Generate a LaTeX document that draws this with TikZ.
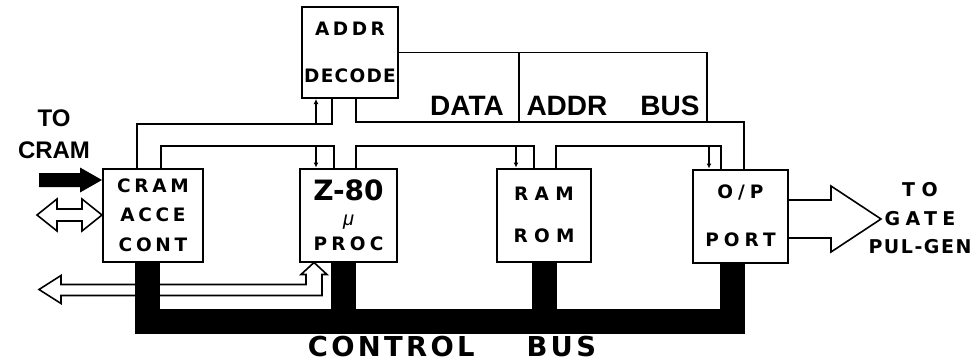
\documentclass[tikz,border=0pt]{standalone}
\usepackage{fontspec}
\setmainfont{Liberation Sans}
\newfontfamily\wide{DejaVu Sans Bold}
\usetikzlibrary{calc,arrows.meta}

\begin{document}
\begin{tikzpicture}[x=1pt, y=-1pt,
    unit/.style={draw, line width=2pt, minimum height=93pt, align=center, inner sep=0pt,
        font=\wide\fontsize{18.5}{22}\selectfont\addfontfeatures{LetterSpace=20}},
    spaced/.style={font=\wide\fontsize{18.5}{22}\selectfont\addfontfeatures{LetterSpace=#1}},
    bus/.style={line width=1.6pt},
    tapped/.style={bus, -{Latex[length=5pt,width=5pt]}},
    ctrl/.style={line width=25pt},
    hollow/.style={line width=1.6pt, fill=white},
    big/.style={font=\fontsize{28}{30}\selectfont\bfseries}]
    \useasboundingbox (0,0) rectangle (977,362);

    % Units
    \node[unit, spaced=19, minimum width=96pt, minimum height=91pt] (decode) at (350,52.5)
        {ADDR\\[25pt]\addfontfeatures{LetterSpace=7}DECODE};
    \node[unit, minimum width=100pt] (cram) at (153,215) {CRAM\\[7.5pt]ACCE\\[7.5pt]CONT};
    \node[unit, spaced=23, minimum width=97pt] (cpu) at (348.5,215)
        {{\fontsize{28}{30}\selectfont\addfontfeatures{LetterSpace=0}Z-80}\\[3pt]{\normalfont\itshape\fontsize{20}{22}\selectfont μ}\\[3pt]PROC};
    \node[unit, spaced=34, minimum width=94pt] (mem) at (544,215) {RAM\\[20pt]ROM};
    \node[unit, spaced=27, minimum width=95pt] (port) at (740.5,216) {O/P\\[26pt]PORT};

    % Data / address bus
    \draw[bus] (decode.east) -| ($(port.north west)+(15,-46.5)$);
    \draw[bus] ($(decode.east)+(120,0)$) -- ++(0,70.5);
    \node[big] (datalbl) at (467,106) {DATA};
    \node[big] (addrlbl) at (613,106) {ADDR\hspace{33pt}BUS};

    \draw[bus] ($(cram.north west)+(35,0)$) |- ($(decode.south west)+(31,25)$) -- ($(decode.south west)+(31,0)$);
    \draw[tapped] ($(decode.south west)+(15,25)$) -- ($(decode.south west)+(15,0)$);
    \draw[bus] ($(decode.south west)+(55,0)$) |- ($(port.north west)+(52,-46.5)$) -- ($(port.north west)+(52,0)$);

    \draw[bus] ($(cram.north west)+(59,0)$) |- ($(cpu.north west)+(35,-21.5)$) -- ($(cpu.north west)+(35,0)$);
    \draw[tapped] ($(cpu.north west)+(17,-21.5)$) -- ($(cpu.north west)+(17,0)$);
    \draw[bus] ($(cpu.north west)+(57,0)$) |- ($(mem.north west)+(38,-21.5)$) -- ($(mem.north west)+(38,0)$);
    \draw[tapped] ($(mem.north west)+(20,-21.5)$) -- ($(mem.north west)+(20,0)$);
    \draw[bus] ($(mem.north west)+(60,0)$) |- ($(port.north west)+(29,-22.5)$) -- ($(port.north west)+(29,0)$);
    \draw[tapped] ($(port.north west)+(17,-22.5)$) -- ($(port.north west)+(17,0)$);

    % Outside links
    \fill[shift={($(cram.west)+(0,-35)$)}] (0,0) -- (-22,-12.5) -- (-22,-7) -- (-63,-7)
        -- (-63,7) -- (-22,7) -- (-22,12.5) -- cycle;
    \draw[hollow, shift={(cram.west)}] (0,0) -- (-20,-16) -- (-20,-6) -- (-45,-6) -- (-45,-16)
        -- (-65,0) -- (-45,16) -- (-45,6) -- (-20,6) -- (-20,16) -- cycle;
    \draw[hollow, shift={($(cpu.south west)+(15,0)$)}] (0,0) -- (13,12) -- (8,12) -- (8,33)
        -- (-253,33) -- (-253,41) -- (-275,27) -- (-253,13) -- (-253,22) -- (-8,22)
        -- (-8,12) -- (-13,12) -- cycle;
    \draw[hollow, shift={($(port.east)+(0,3)$)}] (0,-19) -- (42,-19) -- (42,-33) -- (92,0)
        -- (42,33) -- (42,19) -- (0,19);

    % Control bus
    \draw[ctrl] ($(cram.south west)+(45.5,0)$) |- ($(port.south west)+(40.5,58)$) -- ($(port.south west)+(40.5,0)$);
    \draw[ctrl] ($(cpu.south west)+(44,0)$) -- ++(0,50);
    \draw[ctrl] ($(mem.south west)+(48.5,0)$) -- ++(0,50);

    % Labels
    \node[font=\fontsize{24}{32}\selectfont\bfseries, align=center] (tocram) at (54,134) {TO\\CRAM};
    \node[font=\wide\fontsize{19}{28.5}\selectfont, align=center] (togate) at (920,218.5)
        {\addfontfeatures{LetterSpace=35}TO\\\addfontfeatures{LetterSpace=28}GATE\\\addfontfeatures{LetterSpace=8}PUL-GEN};
    \node[inner sep=1pt, font=\wide\fontsize{27.4}{30}\selectfont\addfontfeatures{LetterSpace=12}] (ctrllbl) at (452,347)
        {CONTROL\hspace{52pt}BUS};
\end{tikzpicture}
\end{document}
